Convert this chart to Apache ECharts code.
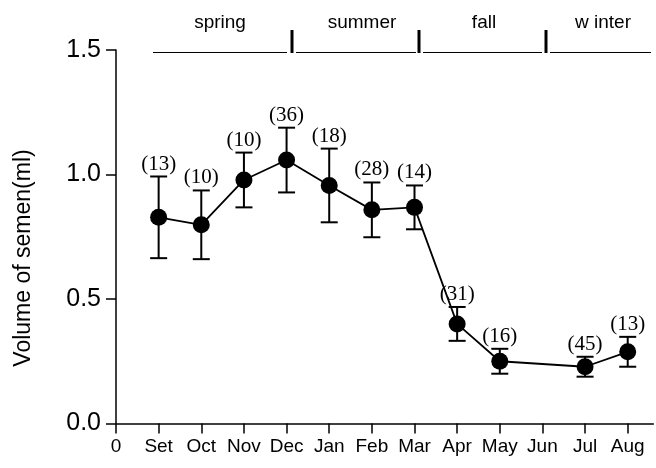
<!DOCTYPE html>
<html>
<head>
<meta charset="utf-8">
<script src="https://cdn.jsdelivr.net/npm/echarts@6/dist/echarts.min.js"></script>
<style>html,body{margin:0;padding:0;background:#fff}#c{width:656px;height:468px}</style>
</head>
<body>
<div id="c"></div>
<script>
// ---- data ----
var tickLabels = ['0','Set','Oct','Nov','Dec','Jan','Feb','Mar','Apr','May','Jun','Jul','Aug'];
var months = [1, 2, 3, 4, 5, 6, 7, 8, 9, 11, 12];
var means  = [0.828, 0.798, 0.978, 1.058, 0.956, 0.858, 0.868, 0.400, 0.250, 0.228, 0.288];
var sems   = [0.164, 0.138, 0.110, 0.130, 0.148, 0.110, 0.088, 0.068, 0.050, 0.040, 0.060];
var counts = [13, 10, 10, 36, 18, 28, 14, 31, 16, 45, 13];
var seasons = ['spring', 'summer', 'fall', 'w inter'];
var yTicks = [0, 0.5, 1.0, 1.5];

var lineData = months.map(function (m, i) { return [m, means[i]]; });
var errData = months.map(function (m, i) { return [m, means[i], sems[i], counts[i]]; });

var chart = echarts.init(document.getElementById('c'), null, {renderer: 'canvas'});

var seasonGraphics = [];
var segs = [[153, 287], [296, 416], [423, 542], [550, 651]];
var bars = [292, 419, 546];
var textX = [220, 362, 484, 603];
segs.forEach(function (s) {
  seasonGraphics.push({type: 'line', shape: {x1: s[0], y1: 52.5, x2: s[1], y2: 52.5},
    style: {stroke: '#000', lineWidth: 1}});
});
bars.forEach(function (b) {
  seasonGraphics.push({type: 'line', shape: {x1: b, y1: 30, x2: b, y2: 53},
    style: {stroke: '#000', lineWidth: 3}});
});
seasons.forEach(function (name, i) {
  seasonGraphics.push({type: 'text', x: textX[i], y: 23,
    style: {text: name, fontSize: 19, fontFamily: 'Liberation Sans, Arial', fill: '#000',
      align: 'center', verticalAlign: 'middle'}});
});
seasonGraphics.push({type: 'text', x: 24, y: 258, rotation: Math.PI / 2,
  style: {text: 'Volume of semen(ml)', fontSize: 23, fontFamily: 'Liberation Sans, Arial', fill: '#000',
    align: 'center', verticalAlign: 'middle'}});

var option = {
  animation: false,
  backgroundColor: '#fff',
  grid: {left: 116, right: 2.7, top: 50, bottom: 44.5, containLabel: false},
  graphic: seasonGraphics,
  xAxis: {
    type: 'value', min: 0, max: 12.6, interval: 1,
    splitLine: {show: false},
    axisLine: {show: true, onZero: false, lineStyle: {color: '#000', width: 1.5}},
    axisTick: {show: true, length: 10, customValues: tickLabels.map(function (t, i) { return i; }),
      lineStyle: {color: '#000', width: 1.5}},
    axisLabel: {margin: 14, fontSize: 19, color: '#000', fontFamily: 'Liberation Sans, Arial',
      customValues: tickLabels.map(function (t, i) { return i; }),
      formatter: function (v) { return tickLabels[Math.round(v)] || ''; }}
  },
  yAxis: {
    type: 'value', min: 0, max: 1.5, interval: 0.5,
    splitLine: {show: false},
    axisLine: {show: true, lineStyle: {color: '#000', width: 1.5}},
    axisTick: {show: true, length: 10, customValues: yTicks, lineStyle: {color: '#000', width: 1.5}},
    axisLabel: {margin: 15, fontSize: 25, color: '#000', fontFamily: 'Liberation Sans, Arial',
      customValues: yTicks,
      formatter: function (v) { return v.toFixed(1); }}
  },
  series: [
    {
      type: 'custom', z: 2,
      data: errData,
      renderItem: function (params, api) {
        var x = api.value(0), m = api.value(1), e = api.value(2), n = api.value(3);
        var top = api.coord([x, m + e]);
        var bot = api.coord([x, m - e]);
        var hw = 8.5;
        var st = {stroke: '#000', lineWidth: 2};
        return {type: 'group', children: [
          {type: 'line', shape: {x1: top[0], y1: top[1], x2: bot[0], y2: bot[1]}, style: st},
          {type: 'line', shape: {x1: top[0] - hw, y1: top[1], x2: top[0] + hw, y2: top[1]}, style: st},
          {type: 'line', shape: {x1: bot[0] - hw, y1: bot[1], x2: bot[0] + hw, y2: bot[1]}, style: st},
          {type: 'text', x: top[0], y: top[1] - 2,
            style: {text: '(' + n + ')', fontSize: 21, fontFamily: 'Liberation Serif, Times New Roman',
              fill: '#000', align: 'center', verticalAlign: 'bottom'}}
        ]};
      }
    },
    {
      type: 'line', z: 3,
      data: lineData,
      symbol: 'circle', symbolSize: 17,
      itemStyle: {color: '#000'},
      lineStyle: {color: '#000', width: 1.8}
    }
  ]
};
chart.setOption(option);
</script>
</body>
</html>
